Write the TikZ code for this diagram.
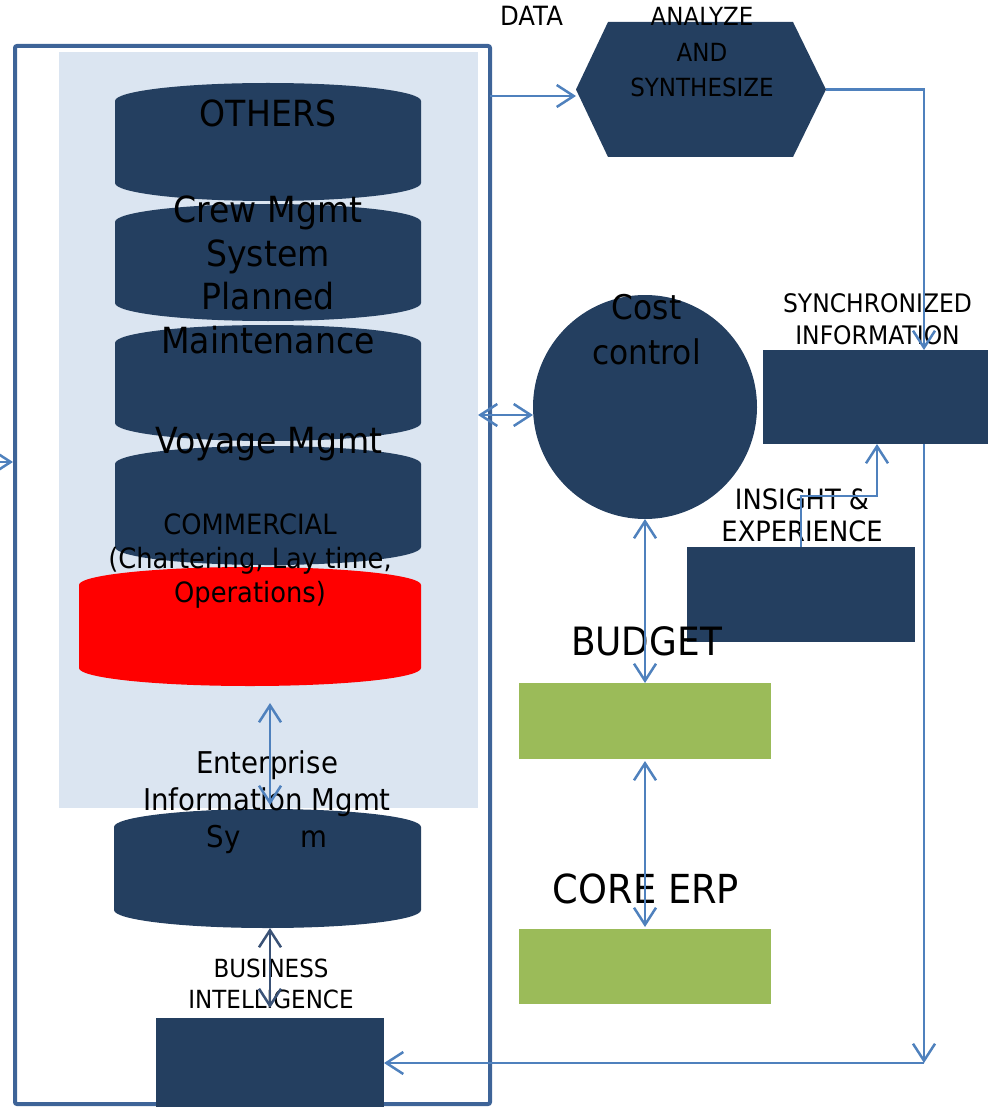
\documentclass[tikz,border=0pt]{standalone}
\usepackage{fontspec}
\setmainfont{DejaVu Sans}[FakeStretch=0.92]
\usetikzlibrary{arrows.meta,calc}
\definecolor{navy}{RGB}{36,63,96}
\definecolor{leaf}{RGB}{155,187,89}
\definecolor{panelblue}{RGB}{219,229,241}
\definecolor{linkblue}{RGB}{79,129,189}
\definecolor{frameblue}{RGB}{62,100,152}
\definecolor{darklink}{RGB}{58,82,118}
\newcommand\setfs[2]{\fontsize{#1}{#2}\selectfont}
% name, centre x, body top y, body bottom y (screen px), x radius, fill colour
\newcommand\dbcyl[6]{%
  \fill[#6] (#2-#5,-#3) arc[start angle=180,end angle=0,x radius=#5pt,y radius=18pt]
     -- (#2+#5,-#4) arc[start angle=0,end angle=-180,x radius=#5pt,y radius=18pt] -- cycle;
  \node[blank,minimum width={2*#5},minimum height={#4-#3+36}] (#1) at (#2,{-(#3+#4)/2}) {};}
\tikzset{
  blank/.style={inner sep=0pt,outer sep=0pt},
  navybox/.style={blank,fill=navy},
  greenbox/.style={blank,fill=leaf,minimum width=252pt},
  conn/.style={draw=linkblue,line width=2.5pt},
  >={Straight Barb[length=17pt,width=22pt]},
  lbl/.style={blank,text=black,align=center}
}
\begin{document}
\begin{tikzpicture}[x=1pt,y=1pt]
\useasboundingbox (0,0) rectangle (988,-1107);
% outer frame and panel
\node[blank,draw=frameblue,line width=4pt,rounded corners=2pt,minimum width=475pt,minimum height=1058pt] (frame) at (252.5,-575) {};
\node[blank,fill=panelblue,minimum width=419pt,minimum height=756pt] (panel) at (268.5,-430) {};
% cylinders
\dbcyl{others}{268}{101}{183}{153}{navy}
\dbcyl{crew}{268}{222}{303}{153}{navy}
\dbcyl{planned}{268}{343}{423}{153}{navy}
\dbcyl{voyage}{268}{464}{547}{153}{navy}
\dbcyl{red}{250}{585}{668}{171}{red}
\dbcyl{eims}{267.5}{827}{910}{153.5}{navy}
% hexagon
\node[blank,minimum width=250pt,minimum height=135pt] (hex) at (701,-89.5) {};
\fill[navy] (hex.west) -- ($(hex.north west)+(32,0)$) -- ($(hex.north east)+(-33,0)$) -- (hex.east)
  -- ($(hex.south east)+(-33,0)$) -- ($(hex.south west)+(32,0)$) -- cycle;
% other shapes
\node[blank,circle,fill=navy,minimum size=224pt] (cost) at (645,-407) {};
\node[navybox,minimum width=225pt,minimum height=94pt] (sync) at (875.5,-397) {};
\node[navybox,minimum width=228pt,minimum height=95pt] (insight) at (801,-594.5) {};
\node[greenbox,minimum height=76pt] (budget) at (645,-721) {};
\node[greenbox,minimum height=75pt] (erp) at (645,-966.5) {};
\node[navybox,minimum width=228pt,minimum height=89pt] (bi) at (270,-1062.5) {};
% texts
\node[lbl,font=\setfs{36}{44},anchor=base] (t-others) at (268,-127) {OTHERS};
\node[lbl,font=\setfs{36}{44}] (t-crew) at (268,-234.75) {Crew Mgmt\\System};
\node[lbl,font=\setfs{36}{44}] (t-planned) at (268,-318.3) {Planned\\Maintenance};
\node[lbl,font=\setfs{36}{44},anchor=base] (t-voyage) at (269,-453) {Voyage Mgmt};
\node[lbl,font=\setfs{28}{34}] (t-comm) at (250,-561.4) {COMMERCIAL\\(Chartering, Lay time,\\Operations)};
\node[lbl,font=\setfs{30}{37}] (t-eims) at (267,-802.2) {Enterprise\\Information Mgmt\\Sy\hspace{60pt}m};
\node[lbl,font=\setfs{25}{31}] (t-bi) at (271,-983.4) {BUSINESS\\INTELLIGENCE};
\node[lbl,font=\setfs{25}{35.5}] (t-hex) at (702,-52.4) {ANALYZE\\AND\\SYNTHESIZE};
\node[lbl,font=\setfs{26.5}{30},anchor=base] (t-data) at (531.5,-26) {DATA};
\node[lbl,font=\setfs{34}{45}] (t-cost) at (646.5,-329.7) {Cost\\control};
\node[lbl,font=\setfs{25.5}{32}] (t-sync) at (877.5,-319.4) {SYNCHRONIZED\\INFORMATION};
\node[lbl,font=\setfs{28}{32}] (t-insight) at (802,-515.4) {INSIGHT \&\\EXPERIENCE};
\node[lbl,font=\setfs{39}{47},anchor=base] (t-budget) at (646.5,-655) {BUDGET};
\node[lbl,font=\setfs{40}{48},anchor=base] (t-erp) at (646,-903) {CORE ERP};
% connectors
\coordinate (dataline) at (0,-96);
\coordinate (rail) at (924,-1063);
\coordinate (leftstub) at (0,-462);
\coordinate (costline) at (0,-415);
\coordinate (ielbow) at (877,-496);
\draw[conn,->] (frame.east |- dataline) -- (hex.west |- dataline);
\draw[conn,->] (hex.east) -| (rail |- sync.north);
\draw[conn,->] (rail |- sync.south) -- (rail);
\draw[conn,->] (rail) -- (bi.east |- rail);
\draw[conn,->,shorten >=2pt] (leftstub) -- (frame.west |- leftstub);
\draw[conn,<->] (panel.east |- costline) -- (cost.west |- costline);
\draw[conn,<->] (cost.south) -- (budget.north);
\draw[conn,<->,shorten <=2pt,shorten >=2pt] (budget.south) -- (erp.north);
\draw[conn,->] (insight.north) |- (ielbow) -- (ielbow |- sync.south);
\draw[conn,<->,shorten <=17pt,shorten >=4pt] (bi.north |- red.south) -- (bi.north |- eims.north);
\draw[conn,draw=darklink,<->,shorten >=10pt] (bi.north |- eims.south) -- (bi.north);
\end{tikzpicture}
\end{document}
